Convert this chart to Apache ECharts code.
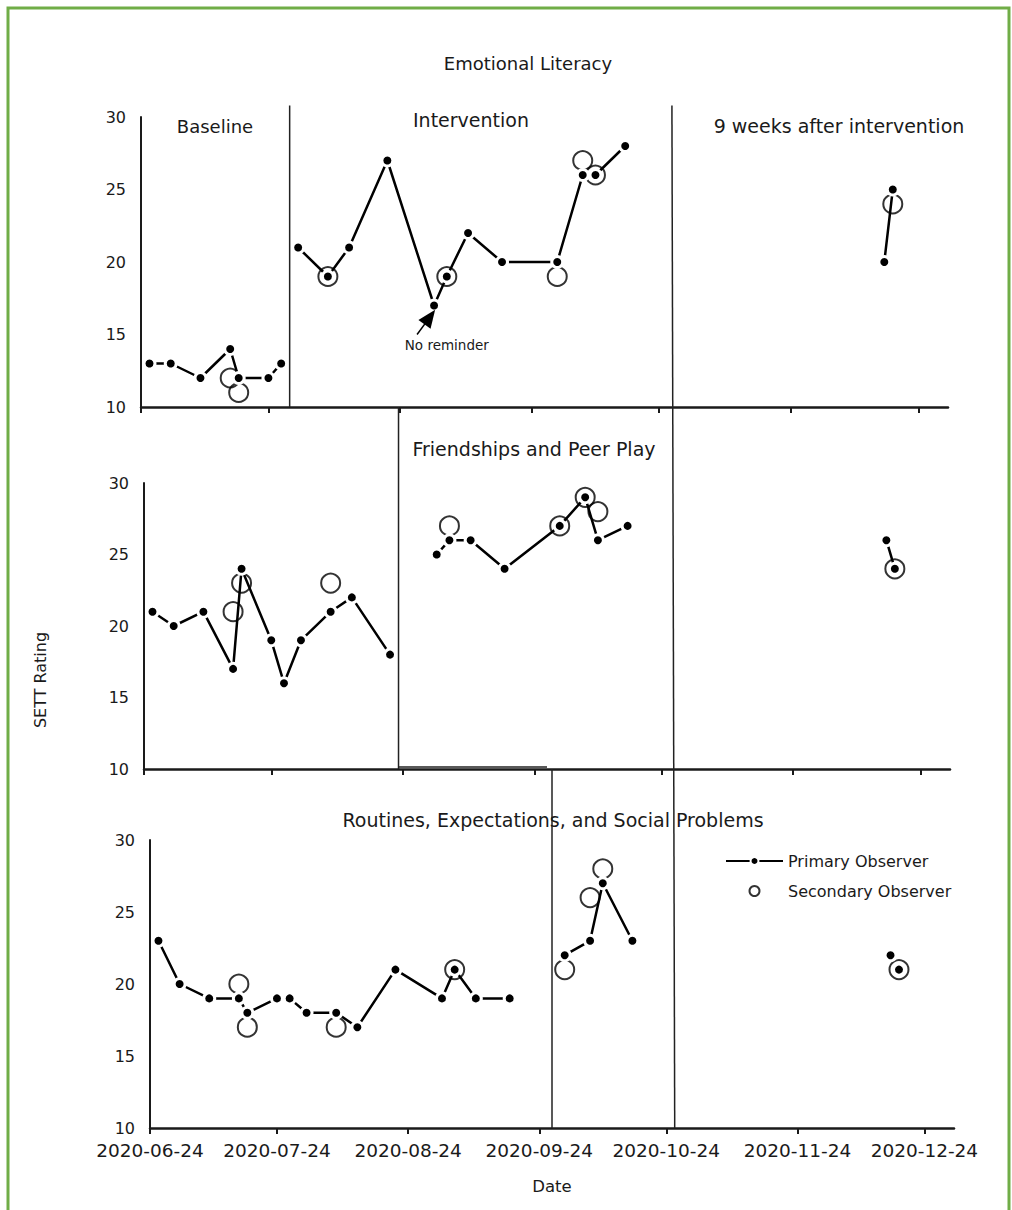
<!DOCTYPE html>
<html>
<head>
<meta charset="utf-8">
<script src="https://cdn.jsdelivr.net/npm/echarts@6/dist/echarts.min.js"></script>
<style>
  html, body { margin: 0; padding: 0; background: #fff; }
  #chart { width: 1012px; height: 1210px; }
</style>
</head>
<body>
<div id="chart"></div>
<script>
// sessions rated by the primary observer (same days in all three domains)
var sessionDates = ['2020-06-26', '2020-07-01', '2020-07-08', '2020-07-15', '2020-07-17', '2020-07-24', '2020-07-27',
  '2020-07-31', '2020-08-07', '2020-08-12', '2020-08-21', '2020-09-01', '2020-09-04', '2020-09-09', '2020-09-17',
  '2020-09-30', '2020-10-06', '2020-10-09', '2020-10-16', '2020-12-16', '2020-12-18'];
var emotionalPrimary = [13, 13, 12, 14, 12, 12, 13, 21, 19, 21, 27, 17, 19, 22, 20, 20, 26, 26, 28, 20, 25];
var friendshipPrimary = [21, 20, 21, 17, 24, 19, 16, 19, 21, 22, 18, 25, 26, 26, 24, 27, 29, 26, 27, 26, 24];
var routinesPrimary = [23, 20, 19, 19, 18, 19, 19, 18, 18, 17, 21, 19, 21, 19, 19, 22, 23, 27, 23, 22, 21];

// reliability sessions rated by the secondary observer
var secondaryDates = ['2020-07-15', '2020-07-17', '2020-08-07', '2020-09-04', '2020-09-30', '2020-10-06', '2020-10-09', '2020-12-18'];
var emotionalSecondary = [12, 11, 19, 19, 19, 27, 26, 24];
var friendshipSecondary = [21, 23, 23, 27, 27, 29, 28, 24];
var routinesSecondary = [20, 17, 17, 21, 21, 26, 28, 21];

// phase changes (line breaks) per domain
var emotionalBreaks = ['2020-07-29', '2020-10-27'];
var friendshipBreaks = ['2020-08-23', '2020-10-27'];
var routinesBreaks = ['2020-09-27', '2020-10-27', '2020-12-17'];
// the follow-up line leans a little as it runs down through the panels
var followUpTop = '2020-10-27';
var followUpBottom = '2020-10-26';

var tickLabels = ['2020-06-24', '2020-07-24', '2020-08-24', '2020-09-24', '2020-10-24', '2020-11-24', '2020-12-24'];
var axisStart = '2020-06-24';
var axisEnd = '2020-12-31';

var reminderArrow = [['2020-08-28', 15.0], ['2020-08-31', 16.2]];
var reminderText = ['2020-09-04', 14.3];

var FONT = 'DejaVu Sans';
var INK = '#1a1a1a';

function toTime(s) {
  var p = s.split('-');
  return new Date(+p[0], +p[1] - 1, +p[2]).getTime();
}

function pad(n) {
  return n < 10 ? '0' + n : '' + n;
}

function fmtDate(v) {
  var d = new Date(v);
  return d.getFullYear() + '-' + pad(d.getMonth() + 1) + '-' + pad(d.getDate());
}

function primaryData(values, breakDates) {
  var pts = sessionDates.map(function (d, i) {
    return [toTime(d), values[i]];
  });
  breakDates.forEach(function (d) {
    pts.push([toTime(d), '-']);
  });
  pts.sort(function (a, b) { return a[0] - b[0]; });
  return pts;
}

function secondaryData(values) {
  return secondaryDates.map(function (d, i) {
    return [toTime(d), values[i]];
  });
}

var ticks = tickLabels.map(toTime);

var grids = [
  { left: 141, top: 117, width: 807, height: 290, outerBoundsMode: 'none' },
  { left: 144, top: 483, width: 806, height: 286, outerBoundsMode: 'none' },
  { left: 150, top: 840, width: 804, height: 288, outerBoundsMode: 'none' }
];

// dates are kept as timestamps on a value axis so the ticks can sit on the 24th of each month
var xAxes = [0, 1, 2].map(function (i) {
  return {
    type: 'value',
    gridIndex: i,
    min: toTime(axisStart),
    max: toTime(axisEnd),
    axisLine: { show: true, onZero: false, lineStyle: { color: INK, width: 2.5 } },
    axisTick: { show: true, length: 6, customValues: ticks, lineStyle: { color: INK, width: 2 } },
    axisLabel: {
      show: i === 2,
      customValues: ticks,
      formatter: fmtDate,
      fontFamily: FONT,
      fontSize: 18.5,
      color: INK,
      margin: 13,
      showMinLabel: true,
      showMaxLabel: true
    },
    splitLine: { show: false },
    name: i === 2 ? 'Date' : '',
    nameLocation: 'middle',
    nameGap: 50,
    nameTextStyle: { fontFamily: FONT, fontSize: 16.5, color: INK }
  };
});

var yAxes = [0, 1, 2].map(function (i) {
  return {
    type: 'value',
    gridIndex: i,
    min: 10,
    max: 30,
    interval: 5,
    axisLine: { show: true, lineStyle: { color: INK, width: 2 } },
    axisTick: { show: false },
    axisLabel: { fontFamily: FONT, fontSize: 16, color: INK, margin: 15 },
    splitLine: { show: false }
  };
});

var domains = [
  { primary: emotionalPrimary, secondary: emotionalSecondary, breaks: emotionalBreaks },
  { primary: friendshipPrimary, secondary: friendshipSecondary, breaks: friendshipBreaks },
  { primary: routinesPrimary, secondary: routinesSecondary, breaks: routinesBreaks }
];

var series = [];
domains.forEach(function (dom, i) {
  series.push({
    type: 'scatter',
    name: 'Secondary Observer',
    xAxisIndex: i,
    yAxisIndex: i,
    data: secondaryData(dom.secondary),
    symbol: 'circle',
    symbolSize: 19,
    itemStyle: { color: 'rgba(255,255,255,0)', borderColor: '#000', borderWidth: 2 },
    emphasis: { disabled: true },
    silent: true,
    z: 2
  });
  var line = {
    type: 'line',
    name: 'Primary Observer',
    xAxisIndex: i,
    yAxisIndex: i,
    data: primaryData(dom.primary, dom.breaks),
    connectNulls: false,
    symbol: 'circle',
    symbolSize: 11,
    showSymbol: true,
    lineStyle: { color: '#000', width: 2.5 },
    itemStyle: { color: '#000', borderColor: '#fff', borderWidth: 3 },
    emphasis: { disabled: true },
    silent: true,
    z: 3
  };
  if (i === 0) {
    line.markLine = {
      silent: true,
      symbol: ['none', 'triangle'],
      symbolSize: [15, 18],
      lineStyle: { color: '#000', width: 1.5, type: 'solid' },
      label: { show: false },
      emphasis: { disabled: true },
      data: [[
        { coord: [toTime(reminderArrow[0][0]), reminderArrow[0][1]] },
        { coord: [toTime(reminderArrow[1][0]), reminderArrow[1][1]] }
      ]]
    };
  }
  series.push(line);
});

function panelTitle(text, left, top, size) {
  return {
    text: text,
    left: left,
    top: top,
    textAlign: 'center',
    padding: 0,
    textStyle: { fontFamily: FONT, fontSize: size || 19, fontWeight: 'normal', color: INK }
  };
}

var option = {
  animation: false,
  backgroundColor: '#fff',
  title: [
    panelTitle('Emotional Literacy', 528, 54, 18),
    panelTitle('Baseline', 215, 117, 18),
    panelTitle('Intervention', 471, 110),
    panelTitle('9 weeks after intervention', 839, 116),
    panelTitle('Friendships and Peer Play', 534, 439),
    panelTitle('Routines, Expectations, and Social Problems', 553, 810)
  ],
  legend: {
    orient: 'vertical',
    left: 725,
    top: 853,
    padding: 0,
    itemWidth: 57,
    itemHeight: 10,
    itemGap: 14,
    selectedMode: false,
    textStyle: { fontFamily: FONT, fontSize: 16, color: INK },
    data: [{ name: 'Primary Observer' }, { name: 'Secondary Observer' }]
  },
  grid: grids,
  xAxis: xAxes,
  yAxis: yAxes,
  series: series
};

var chart = echarts.init(document.getElementById('chart'), null, { renderer: 'svg' });
chart.setOption(option);

function px(i, d, v) {
  return chart.convertToPixel({ xAxisIndex: i, yAxisIndex: i }, [toTime(d), v]);
}

function seg(a, b, w) {
  return {
    type: 'line',
    silent: true,
    z: 1,
    shape: { x1: a[0], y1: a[1], x2: b[0], y2: b[1] },
    style: { stroke: '#222', lineWidth: w || 1.5 }
  };
}

// phase change lines
var b1 = emotionalBreaks[0], b2 = friendshipBreaks[0], b3 = routinesBreaks[0];
var graphics = [];
graphics.push(seg(px(0, b1, 30.8), px(0, b1, 10)));
graphics.push(seg([px(1, b2, 10)[0], px(0, b2, 10)[1]], px(1, b2, 10)));
var h1 = px(1, b2, 10), h2 = px(1, b3, 10);
graphics.push(seg([h1[0], h1[1] - 2], [h2[0], h2[1] - 2]));
graphics.push(seg([px(2, b3, 10)[0], px(1, b3, 10)[1]], px(2, b3, 10)));
graphics.push(seg(px(0, followUpTop, 30.8), px(2, followUpBottom, 10)));

var rt = px(0, reminderText[0], reminderText[1]);
graphics.push({
  type: 'text',
  x: rt[0],
  y: rt[1],
  silent: true,
  style: { text: 'No reminder', fontFamily: FONT, fontSize: 13.5, fill: INK, align: 'center', verticalAlign: 'middle' }
});

graphics.push({
  type: 'text',
  x: 40,
  y: 680,
  rotation: Math.PI / 2,
  silent: true,
  style: { text: 'SETT Rating', fontFamily: FONT, fontSize: 16, fill: INK, align: 'center', verticalAlign: 'middle' }
});

// green frame round the figure
graphics.push({
  type: 'rect',
  silent: true,
  z: 10,
  shape: { x: 8, y: 8, width: 1001, height: 1260 },
  style: { fill: 'none', stroke: '#70ad47', lineWidth: 3 }
});

chart.setOption({ graphic: graphics });
</script>
</body>
</html>
